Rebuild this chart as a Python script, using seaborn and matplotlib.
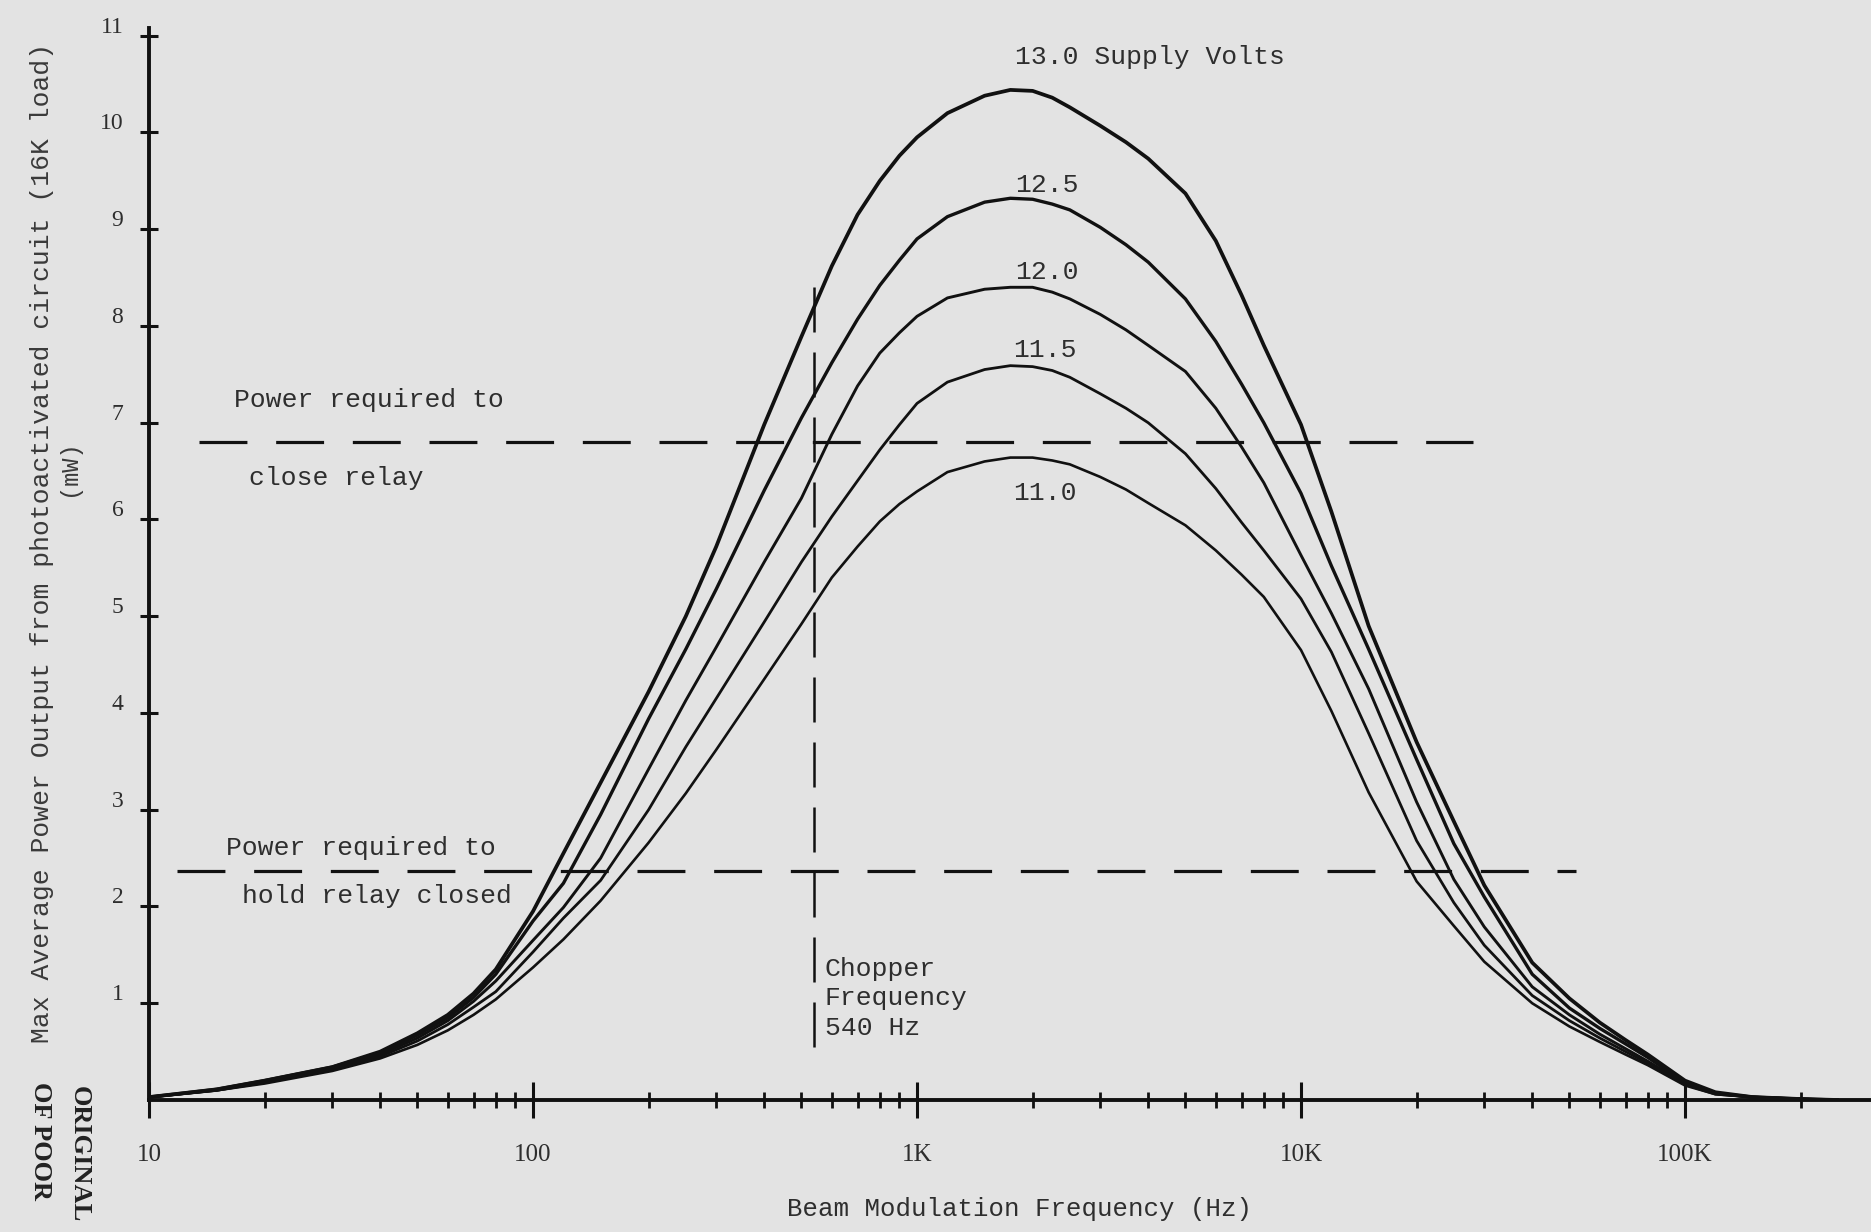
import numpy as np
import pandas as pd
import matplotlib
matplotlib.use("Agg")
import matplotlib.pyplot as plt
import matplotlib.transforms as mtransforms
from matplotlib.ticker import FixedLocator, NullFormatter
import seaborn as sns

# beam modulation frequency (Hz) and max average power (mW) for each supply voltage
freq_hz = [10, 15, 20, 30, 40, 50, 60, 70, 80,
           100, 120, 150, 200, 250, 300, 400, 500, 600, 700, 800, 900,
           1000, 1200, 1500, 1750, 2000, 2250, 2500, 3000, 3500, 4000, 5000, 6000, 7000, 8000,
           10000, 12000, 15000, 20000, 25000, 30000, 40000, 50000, 60000, 70000, 80000,
           100000, 120000, 150000, 200000, 250000]

p_13_0 = [0.03, 0.11, 0.20, 0.34, 0.50, 0.69, 0.88, 1.10, 1.35,
          1.95, 2.55, 3.28, 4.22, 5.00, 5.72, 6.98, 7.89, 8.62, 9.15, 9.50, 9.76,
          9.95, 10.20, 10.38, 10.44, 10.43, 10.36, 10.26, 10.07, 9.90, 9.73, 9.37, 8.88, 8.32, 7.80,
          6.98, 6.08, 4.90, 3.70, 2.88, 2.22, 1.42, 1.05, 0.80, 0.62, 0.47,
          0.20, 0.08, 0.03, 0.01, 0.0]
p_12_5 = [0.03, 0.11, 0.20, 0.34, 0.49, 0.67, 0.85, 1.06, 1.30,
          1.85, 2.24, 2.95, 3.94, 4.66, 5.28, 6.30, 7.05, 7.62, 8.07, 8.42, 8.68,
          8.90, 9.13, 9.28, 9.32, 9.31, 9.26, 9.20, 9.02, 8.84, 8.66, 8.28, 7.84, 7.40, 7.00,
          6.27, 5.52, 4.66, 3.52, 2.65, 2.10, 1.30, 0.95, 0.74, 0.58, 0.44,
          0.18, 0.07, 0.03, 0.01, 0.0]
p_12_0 = [0.03, 0.10, 0.19, 0.33, 0.47, 0.64, 0.82, 1.02, 1.23,
          1.65, 1.99, 2.50, 3.42, 4.13, 4.68, 5.56, 6.22, 6.88, 7.38, 7.72, 7.93,
          8.10, 8.29, 8.38, 8.40, 8.40, 8.35, 8.28, 8.12, 7.96, 7.80, 7.53, 7.15, 6.75, 6.38,
          5.63, 5.03, 4.25, 3.08, 2.28, 1.79, 1.17, 0.88, 0.68, 0.53, 0.40,
          0.17, 0.07, 0.03, 0.01, 0.0]
p_11_5 = [0.03, 0.10, 0.18, 0.32, 0.45, 0.61, 0.78, 0.96, 1.12,
          1.53, 1.88, 2.27, 3.00, 3.65, 4.15, 4.94, 5.56, 6.03, 6.40, 6.72, 6.98,
          7.20, 7.42, 7.55, 7.59, 7.58, 7.54, 7.47, 7.30, 7.15, 7.00, 6.68, 6.32, 5.97, 5.68,
          5.18, 4.63, 3.79, 2.68, 2.04, 1.60, 1.08, 0.82, 0.64, 0.50, 0.38,
          0.16, 0.06, 0.03, 0.01, 0.0]
p_11_0 = [0.03, 0.10, 0.17, 0.30, 0.43, 0.57, 0.72, 0.88, 1.04,
          1.37, 1.66, 2.06, 2.66, 3.17, 3.62, 4.35, 4.92, 5.40, 5.72, 5.98, 6.16,
          6.29, 6.49, 6.60, 6.64, 6.64, 6.61, 6.57, 6.44, 6.31, 6.17, 5.94, 5.68, 5.43, 5.20,
          4.65, 4.02, 3.18, 2.26, 1.80, 1.43, 1.00, 0.76, 0.60, 0.47, 0.36,
          0.15, 0.06, 0.03, 0.01, 0.0]

curve_labels = ["13.0 Supply Volts", "12.5", "12.0", "11.5", "11.0"]
curves = [p_13_0, p_12_5, p_12_0, p_11_5, p_11_0]

close_relay_mw = 6.8
hold_relay_mw = 2.37
chopper_hz = 540

x_major = [10, 100, 1000, 10000, 100000]
x_major_labels = ["10", "100", "1K", "10K", "100K"]
y_ticks = list(range(1, 12))

paper = "#e3e3e3"
ink = "#111111"
type_ink = "#2e2e2e"
mono = ["Liberation Mono", "DejaVu Sans Mono"]
serif = ["Liberation Serif", "DejaVu Serif"]

sns.set_style("ticks")
plt.rcParams["font.family"] = mono

fig = plt.figure(figsize=(18.71, 12.32), dpi=100, facecolor=paper)
ax = fig.add_axes([149 / 1871, 132 / 1232, 1 - 149 / 1871, (1100 - 28) / 1232])
ax.set_facecolor(paper)
ax.set_xscale("log")

widths = [2.7, 2.4, 2.1, 2.0, 1.9]
for vals, lw in zip(curves, widths):
    sns.lineplot(x=freq_hz, y=vals, ax=ax, color=ink, linewidth=lw,
                 estimator=None, sort=False, legend=False)

# threshold lines
dash_kw = dict(color=ink, linewidth=2.3, dashes=(15, 9))
sns.lineplot(x=[13.5, 28000], y=[close_relay_mw, close_relay_mw], ax=ax, **dash_kw)
sns.lineplot(x=[11.8, 52000], y=[hold_relay_mw, hold_relay_mw], ax=ax, **dash_kw)
ax.plot([chopper_hz, chopper_hz], [0.55, 8.6], color=ink, linewidth=1.8, dashes=(18, 8))

ax.set_xlim(10, 3.05e5)
ax.set_ylim(0, 11.08)

ax.xaxis.set_major_locator(FixedLocator(x_major))
ax.set_xticklabels(x_major_labels)
minor = [m * 10 ** d for d in range(1, 6) for m in range(2, 10) if m * 10 ** d < 3.0e5]
ax.xaxis.set_minor_locator(FixedLocator(minor))
ax.xaxis.set_minor_formatter(NullFormatter())
ax.set_yticks(y_ticks)
ax.set_yticklabels([str(t) for t in y_ticks])

ax.tick_params(axis="x", which="major", direction="inout", length=26, width=2.2,
               pad=19, labelsize=18, colors=ink, labelcolor=type_ink)
ax.tick_params(axis="x", which="minor", direction="inout", length=11, width=2.0, colors=ink)
ax.tick_params(axis="y", which="major", direction="inout", length=13, width=2.2,
               pad=12, labelsize=17, colors=ink, labelcolor=type_ink)
for lab in ax.get_xticklabels() + ax.get_yticklabels():
    lab.set_family(serif)
shift = mtransforms.ScaledTranslation(0, 0.11, fig.dpi_scale_trans)
for lab in ax.get_yticklabels():
    lab.set_transform(lab.get_transform() + shift)

for side in ["top", "right"]:
    ax.spines[side].set_visible(False)
for side in ["left", "bottom"]:
    ax.spines[side].set_linewidth(2.8)
    ax.spines[side].set_color(ink)

ax.set_xlabel("")
ax.set_ylabel("")

txt = dict(color=type_ink, fontsize=19, ha="left", va="center")
ax.text(1800, 10.78, curve_labels[0], **txt)
ax.text(1800, 9.46, curve_labels[1], **txt)
ax.text(1800, 8.56, curve_labels[2], **txt)
ax.text(1780, 7.75, curve_labels[3], **txt)
ax.text(1780, 6.27, curve_labels[4], **txt)

ax.text(16.6, 7.23, "Power required to", **txt)
ax.text(18.2, 6.43, "close relay", **txt)
ax.text(15.9, 2.60, "Power required to", **txt)
ax.text(17.5, 2.11, "hold relay closed", **txt)
ax.text(575, 1.05, "Chopper\nFrequency\n540 Hz", linespacing=1.3, **txt)

fig.text(1020 / 1871, 1 - 1209 / 1232, "Beam Modulation Frequency (Hz)",
         ha="center", va="center", fontsize=18.5, color=type_ink)
fig.text(42 / 1871, 1 - 543 / 1232,
         "Max Average Power Output from photoactivated circuit (16K load)",
         rotation=90, ha="center", va="center", fontsize=19, color="#3a3a3a")
fig.text(69 / 1871, 1 - 468 / 1232, "(mW)", rotation=90, ha="center", va="center",
         fontsize=17, color="#3a3a3a")

stamp = dict(rotation=270, ha="center", va="top", fontsize=19, fontweight="bold",
             family=serif, color="#222222")
fig.text(79 / 1871, 1 - 1086 / 1232, "ORIGINAL", **stamp)
fig.text(40 / 1871, 1 - 1082 / 1232, "OF POOR", **stamp)

fig.savefig("out.png", dpi=100, facecolor=paper)
